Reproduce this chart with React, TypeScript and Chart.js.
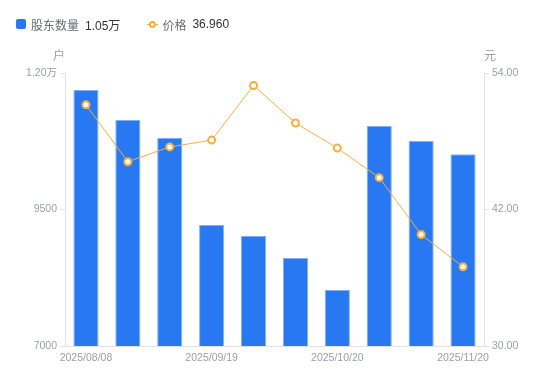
import React, { useEffect, useRef } from "react";
import { Chart, registerables } from "chart.js";

Chart.register(...registerables);

const dates = [
  "2025/08/08", "2025/08/20", "2025/08/29", "2025/09/19", "2025/09/30",
  "2025/10/10", "2025/10/20", "2025/10/31", "2025/11/10", "2025/11/20",
];
const holders = [11690, 11140, 10815, 9215, 9015, 8610, 8025, 11030, 10755, 10510];
const prices = [51.2, 46.2, 47.5, 48.1, 52.9, 49.6, 47.4, 44.8, 39.8, 36.96];
const leftTicks = [7000, 9500, 12000];
const rightTicks = [30, 42, 54];
const shownLabelIdx = [0, 3, 6, 9];

const FONT = '"Liberation Sans", "Noto Sans CJK SC", Arial, sans-serif';
const TICK_COLOR = "#9b9dab";
const AXIS_COLOR = "#e3e3e6";
const BAR_COLOR = "#2878f2";
const LINE_COLOR = "#f7ae3a";
const TICK_SIZE = 10.5;

const axisTitles = {
  id: "axisTitles",
  afterDraw(chart: any) {
    const ctx = chart.ctx;
    const y = chart.scales.y;
    const y1 = chart.scales.y1;
    ctx.save();
    ctx.font = `12px ${FONT}`;
    ctx.fillStyle = TICK_COLOR;
    ctx.textAlign = "center";
    ctx.textBaseline = "middle";
    ctx.fillText("户", y.right - 6, y.top - 16);
    ctx.fillText("元", y1.left + 6, y1.top - 16);
    ctx.restore();
  },
};

export default function App() {
  const ref = useRef<HTMLCanvasElement | null>(null);
  useEffect(() => {
    if (!ref.current) return;
    const chart = new Chart(ref.current, {
      type: "bar",
      data: {
        labels: dates,
        datasets: [
          {
            type: "line",
            label: "价格",
            data: prices,
            yAxisID: "y1",
            borderColor: LINE_COLOR,
            borderWidth: 1,
            pointRadius: 3.5,
            pointBorderWidth: 2,
            pointBackgroundColor: "#ffffff",
            pointBorderColor: LINE_COLOR,
            tension: 0,
            order: 0,
          } as any,
          {
            type: "bar",
            label: "股东数量",
            data: holders,
            yAxisID: "y",
            backgroundColor: BAR_COLOR,
            borderColor: "#7fb0f7",
            borderWidth: { top: 1, left: 1, right: 1, bottom: 0 },
            barPercentage: 0.6,
            categoryPercentage: 1,
            order: 1,
          } as any,
        ],
      },
      options: {
        animation: false,
        responsive: false,
        maintainAspectRatio: false,
        layout: { padding: { top: 73, left: 0, right: 0, bottom: 0 } },
        plugins: { legend: { display: false }, tooltip: { enabled: false } },
        scales: {
          x: {
            offset: true,
            grid: { display: false, drawTicks: false },
            border: { display: true, color: AXIS_COLOR },
            ticks: {
              autoSkip: false,
              maxRotation: 0,
              padding: 6,
              color: TICK_COLOR,
              font: { size: TICK_SIZE, family: FONT },
              callback: (_v: any, i: number) => (shownLabelIdx.includes(i) ? dates[i] : ""),
            },
            afterFit: (s: any) => { s.height = 35; },
          },
          y: {
            position: "left",
            min: leftTicks[0],
            max: leftTicks[leftTicks.length - 1],
            afterBuildTicks: (s: any) => { s.ticks = leftTicks.map((v) => ({ value: v })); },
            grid: { drawOnChartArea: false, drawTicks: true, tickLength: 5, tickColor: AXIS_COLOR },
            border: { display: true, color: AXIS_COLOR },
            ticks: {
              padding: 3,
              color: TICK_COLOR,
              font: { size: TICK_SIZE, family: FONT },
              callback: (v: any) => (v >= 10000 ? (v / 10000).toFixed(2) + "万" : String(v)),
            },
            afterFit: (s: any) => { s.width = 65; },
          },
          y1: {
            position: "right",
            min: rightTicks[0],
            max: rightTicks[rightTicks.length - 1],
            afterBuildTicks: (s: any) => { s.ticks = rightTicks.map((v) => ({ value: v })); },
            grid: { drawOnChartArea: false, drawTicks: true, tickLength: 5, tickColor: AXIS_COLOR },
            border: { display: true, color: AXIS_COLOR },
            ticks: {
              padding: 3,
              color: TICK_COLOR,
              font: { size: TICK_SIZE, family: FONT },
              callback: (v: any) => Number(v).toFixed(2),
            },
            afterFit: (s: any) => { s.width = 66; },
          },
        },
      } as any,
      plugins: [axisTitles],
    });
    return () => chart.destroy();
  }, []);

  const legendText: React.CSSProperties = { color: "#6b6b78", marginRight: 6 };
  const legendVal: React.CSSProperties = { color: "#333333" };

  return (
    <div style={{ position: "fixed", left: 0, top: 0, width: 550, height: 381, background: "#fff", fontFamily: FONT }}>
      <canvas ref={ref} width={550} height={381} style={{ position: "absolute", left: 0, top: 0, width: 550, height: 381 }} />
      <div style={{ position: "absolute", left: 16, top: 16, height: 16, display: "flex", alignItems: "center", fontSize: 12, whiteSpace: "nowrap" }}>
        <span style={{ width: 10, height: 10, background: BAR_COLOR, borderRadius: 2, display: "inline-block", marginRight: 5 }} />
        <span style={legendText}>股东数量</span>
        <span style={legendVal}>1.05万</span>
        <span style={{ display: "inline-block", position: "relative", width: 11, height: 10, marginLeft: 27, marginRight: 4 }}>
          <span style={{ position: "absolute", left: 0, top: 4.5, width: 11, height: 1, background: LINE_COLOR }} />
          <span style={{ position: "absolute", left: 2, top: 2, width: 3, height: 3, border: `2px solid ${LINE_COLOR}`, borderRadius: "50%", background: "#fff" }} />
        </span>
        <span style={legendText}>价格</span>
        <span style={legendVal}>36.960</span>
      </div>
    </div>
  );
}
